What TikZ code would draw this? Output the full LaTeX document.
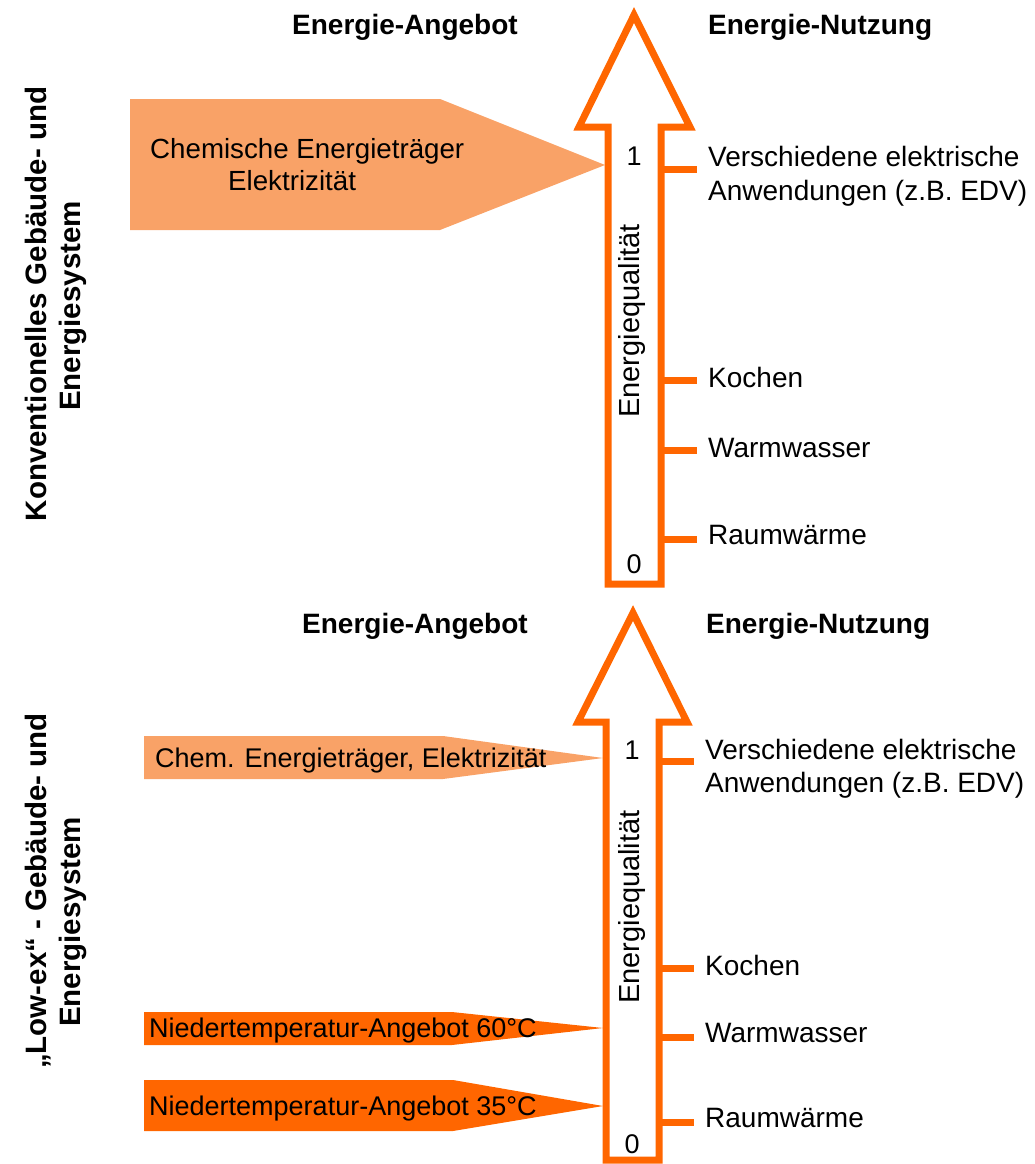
\documentclass[tikz,border=0pt]{standalone}
\usepackage{fontspec}
\setmainfont{Liberation Sans}
\definecolor{ora}{HTML}{FF6600}
\definecolor{lora}{HTML}{F9A267}
\begin{document}
\begin{tikzpicture}[x=1pt,y=-1pt,
  qarrow/.style={draw=ora,line width=7pt,fill=white,miter limit=10},
  tick/.style={draw=ora,line width=7pt},
  lbl/.style={inner sep=0pt,anchor=base west,font=\fontsize{27}{32}\selectfont},
  use/.style={inner sep=0pt,anchor=base west,font=\fontsize{28}{33}\selectfont},
  num/.style={inner sep=0pt,anchor=base,font=\fontsize{27}{32}\selectfont},
  hdr/.style={inner sep=0pt,anchor=base west,font=\fontsize{28}{33}\selectfont\bfseries},
  ttl/.style={inner sep=0pt,anchor=base,rotate=90,font=\fontsize{29.5}{34}\selectfont\bfseries},
  qual/.style={inner sep=0pt,anchor=center,rotate=90,font=\fontsize{29}{34}\selectfont}]
\useasboundingbox (0,0) rectangle (1035,1164);

% ---------- top part ----------
\node[ttl] (t1a) at (46,304) {Konventionelles Gebäude- und};
\node[ttl] (t1b) at (80,306) {Energiesystem};
\node[hdr] (h1a) at (292,35) {Energie-Angebot};
\node[hdr] (h1b) at (708,35) {Energie-Nutzung};

\fill[lora] (130,99) -- (440,99) -- (605,165) -- (440,230) -- (130,230) -- cycle;
\node[lbl,font=\fontsize{27.7}{32}\selectfont] (s1a) at (150,158) {Chemische Energieträger};
\node[lbl,font=\fontsize{27.7}{32}\selectfont] (s1b) at (228,190) {Elektrizität};

\draw[qarrow] (634,15) -- (690,127) -- (661,127) -- (661,584) -- (608,584)
  -- (608,127) -- (579,127) -- cycle;
\node[num] (n1a) at (634,165) {1};
\node[num] (n1b) at (634,573) {0};
\node[qual] (q1) at (632,321) {Energiequalität};

\coordinate (k1a) at (661,169); \coordinate (k1b) at (661,380);
\coordinate (k1c) at (661,450); \coordinate (k1d) at (661,539);
\draw[tick] (k1a) -- ++(36,0);
\draw[tick] (k1b) -- ++(36,0);
\draw[tick] (k1c) -- ++(36,0);
\draw[tick] (k1d) -- ++(36,0);
\node[use] (u1a) at (708,166) {Verschiedene elektrische};
\node[use] (u1b) at (708,200) {Anwendungen (z.B. EDV)};
\node[use] (u1c) at (708,387) {Kochen};
\node[use] (u1d) at (708,457) {Warmwasser};
\node[use] (u1e) at (708,544) {Raumwärme};

% ---------- bottom part ----------
\node[ttl] (t2a) at (46,891) {„Low-ex“ - Gebäude- und};
\node[ttl] (t2b) at (80,922) {Energiesystem};
\node[hdr] (h2a) at (302,633) {Energie-Angebot};
\node[hdr] (h2b) at (706,633) {Energie-Nutzung};

\fill[lora] (144,736) -- (443,736) -- (603,758) -- (443,779) -- (144,779) -- cycle;
\node[lbl] (s2a) at (155,767) {Chem. Energieträger, Elektrizität};
\fill[ora] (144,1012) -- (452,1012) -- (603,1028) -- (452,1045) -- (144,1045) -- cycle;
\node[lbl] (s2b) at (149,1037) {Niedertemperatur-Angebot 60°C};
\fill[ora] (144,1080) -- (453,1080) -- (603,1106) -- (453,1131) -- (144,1131) -- cycle;
\node[lbl] (s2c) at (149,1115) {Niedertemperatur-Angebot 35°C};

\draw[qarrow] (633,613) -- (687,722) -- (659,722) -- (659,1160) -- (606,1160)
  -- (606,722) -- (578,722) -- cycle;
\node[num] (n2a) at (632,759) {1};
\node[num] (n2b) at (632,1153) {0};
\node[qual] (q2) at (632,907) {Energiequalität};

\coordinate (k2a) at (659,761); \coordinate (k2b) at (659,968);
\coordinate (k2c) at (659,1037); \coordinate (k2d) at (659,1122);
\draw[tick] (k2a) -- ++(35,0);
\draw[tick] (k2b) -- ++(35,0);
\draw[tick] (k2c) -- ++(35,0);
\draw[tick] (k2d) -- ++(35,0);
\node[use] (u2a) at (705,759) {Verschiedene elektrische};
\node[use] (u2b) at (705,792) {Anwendungen (z.B. EDV)};
\node[use] (u2c) at (705,975) {Kochen};
\node[use] (u2d) at (705,1042) {Warmwasser};
\node[use] (u2e) at (705,1127) {Raumwärme};
\end{tikzpicture}
\end{document}
